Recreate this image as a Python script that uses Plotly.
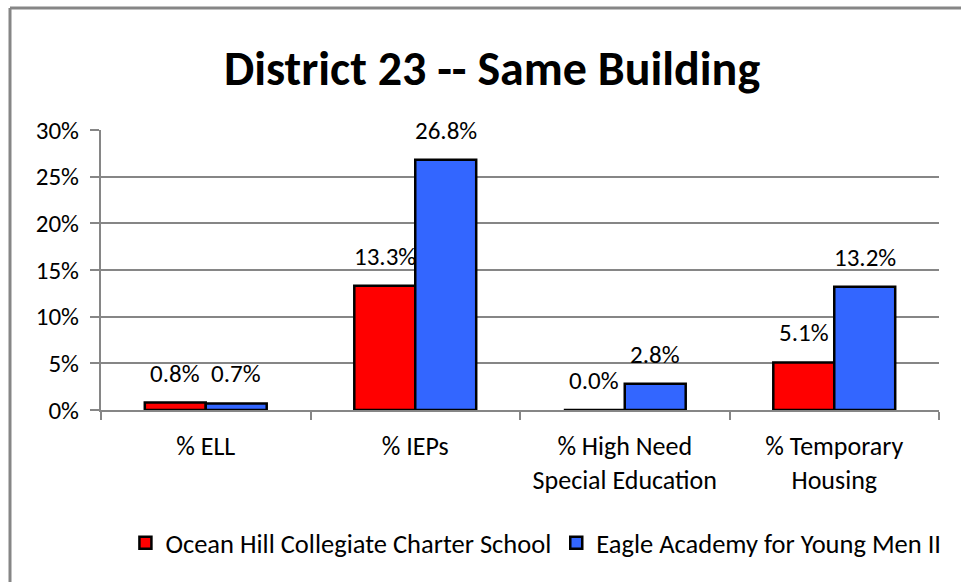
import plotly.graph_objects as go

categories = ["% ELL", "% IEPs", "% High Need<br>Special Education", "% Temporary<br>Housing"]
ocean_hill = [0.8, 13.3, 0.0, 5.1]
eagle = [0.7, 26.8, 2.8, 13.2]
series_names = ["Ocean Hill Collegiate Charter School", "Eagle Academy for Young Men II"]
tick_vals = [0, 5, 10, 15, 20, 25, 30]
tick_text = ["0%", "5%", "10%", "15%", "20%", "25%", "30%"]

FONT = "Calibri, Carlito, Lato, sans-serif"
colors = ["#FF0000", "#3366FF"]
W, H = 961, 582
ML, MR, MT, MB = 101, 22, 130, 172

fig = go.Figure()
for name, vals, col in zip(series_names, [ocean_hill, eagle], colors):
    fig.add_trace(go.Bar(
        x=categories, y=vals, name=name,
        marker=dict(color=col, line=dict(color="black", width=2.5)),
    ))

# data labels
for vals, shift in [(ocean_hill, -30.5), (eagle, 30.5)]:
    for c, v in zip(categories, vals):
        fig.add_annotation(
            x=c, y=v, text=f"{v:.1f}%", showarrow=False,
            xshift=shift, yshift=12, yanchor="bottom",
            font=dict(family=FONT, size=25, color="black"),
        )

plot_h = H - MT - MB
plot_w = W - ML - MR
def px_to_paper_x(px):
    return (px - ML) / plot_w
def px_to_paper_y(py):
    return (H - MB - py) / plot_h

fig.update_layout(
    width=W, height=H,
    margin=dict(l=ML, r=MR, t=MT, b=MB, autoexpand=False),
    paper_bgcolor="white", plot_bgcolor="white",
    barmode="group", bargap=0.418, bargroupgap=0,
    title=dict(text="<b>District 23 -- Same Building</b>", x=0.512, xanchor="center",
               y=1 - 68 / H, yanchor="middle",
               font=dict(family=FONT, size=48, color="black")),
    font=dict(family=FONT, size=26, color="black"),
    showlegend=True,
    legend=dict(orientation="h", x=0.519, xanchor="center",
                y=px_to_paper_y(543), yanchor="middle",
                font=dict(family=FONT, size=26.5, color="black"),
                traceorder="normal", entrywidthmode="pixels"),
    xaxis=dict(
        showgrid=False, showline=True, linecolor="#868686", linewidth=2,
        ticks="outside", tickson="boundaries", ticklen=8, tickcolor="#868686", tickwidth=2,
        tickfont=dict(family=FONT, size=26, color="black"),
        ticklabelstandoff=12, automargin=False,
    ),
    yaxis=dict(
        range=[0, 30], tickvals=tick_vals, ticktext=tick_text,
        showgrid=True, gridcolor="#868686", gridwidth=2,
        showline=True, linecolor="#868686", linewidth=2,
        ticks="outside", ticklen=9, tickcolor="#868686", tickwidth=2,
        tickfont=dict(family=FONT, size=25, color="black"),
        ticklabelstandoff=6, automargin=False,
        zeroline=False,
    ),
    shapes=[
        dict(type="line", xref="paper", yref="paper",
             x0=px_to_paper_x(10), x1=px_to_paper_x(970),
             y0=px_to_paper_y(8), y1=px_to_paper_y(8),
             line=dict(color="#868686", width=3)),
        dict(type="line", xref="paper", yref="paper",
             x0=px_to_paper_x(10), x1=px_to_paper_x(10),
             y0=px_to_paper_y(8), y1=px_to_paper_y(600),
             line=dict(color="#868686", width=3)),
    ],
)

fig.write_html("out.html", config={"displayModeBar": False},
               post_script="document.body.style.margin='0';document.body.style.padding='0';")
